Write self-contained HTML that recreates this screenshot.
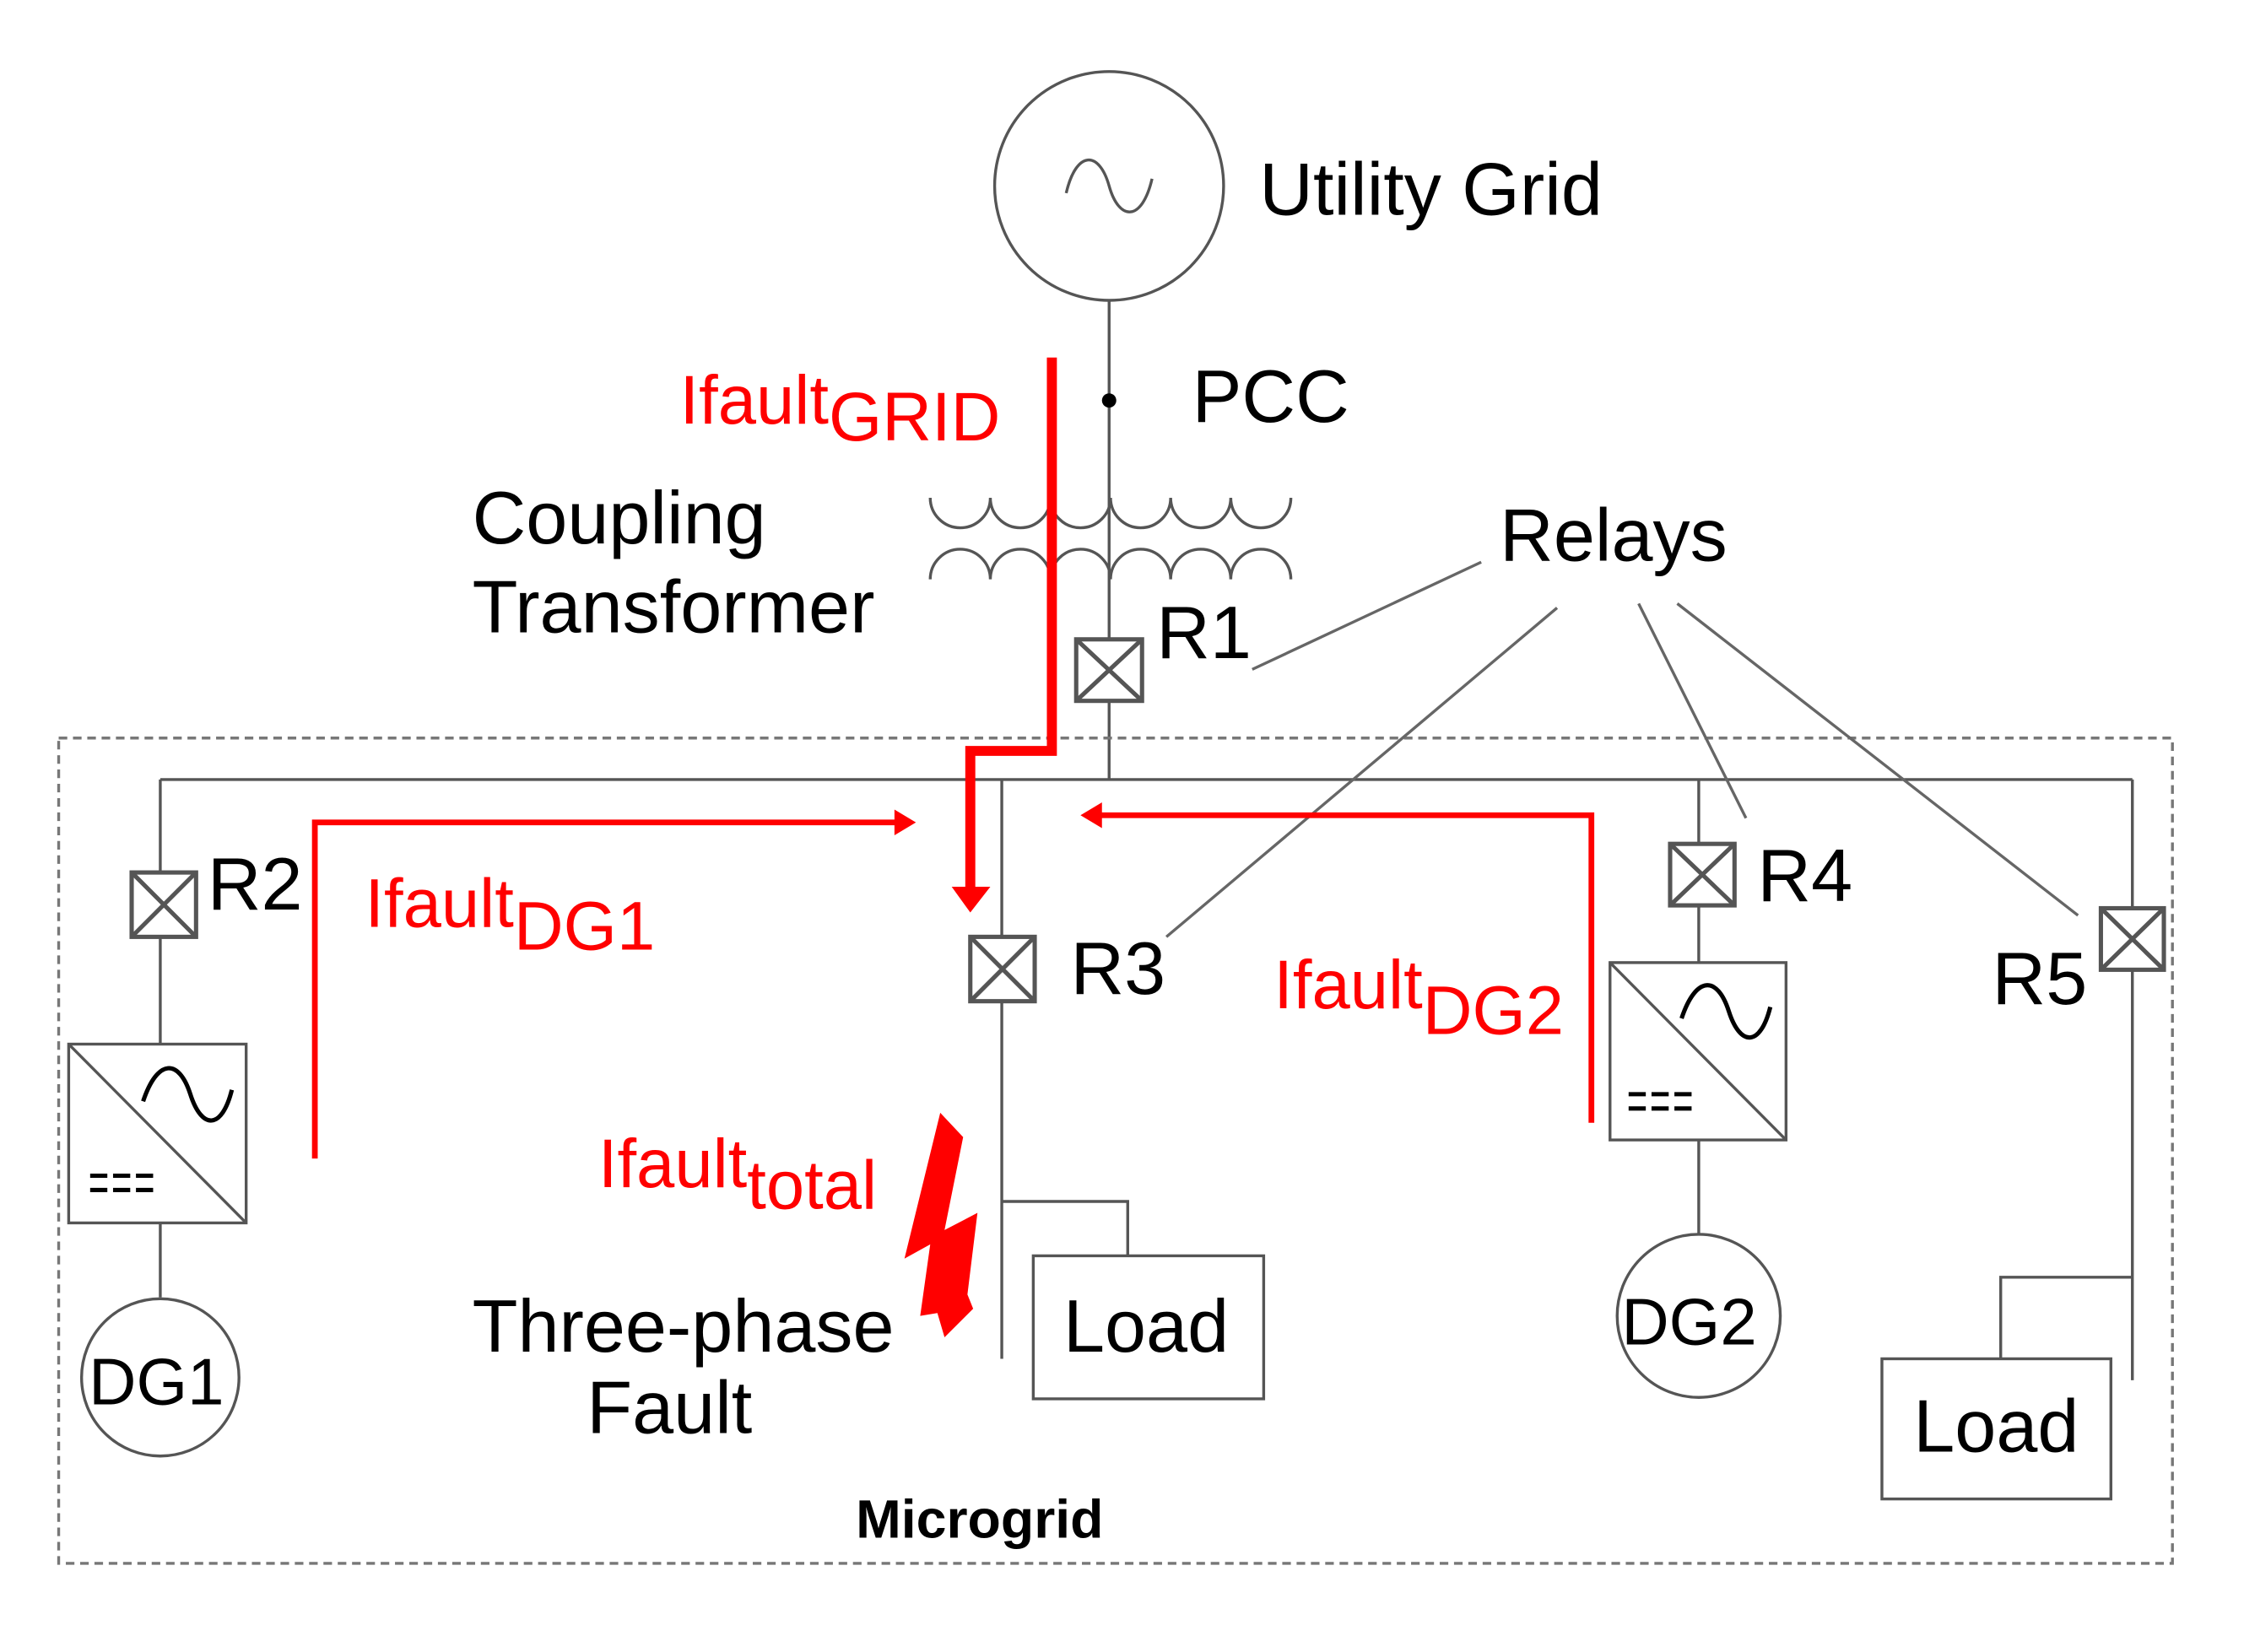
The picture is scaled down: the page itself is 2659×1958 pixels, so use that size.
<!DOCTYPE html>
<html><head><style>html,body{margin:0;padding:0;background:#fff}svg{display:block}</style></head>
<body>
<svg width="2659" height="1958" viewBox="0 0 1568 1155" preserveAspectRatio="none" xmlns="http://www.w3.org/2000/svg" font-family="Liberation Sans, Arial, sans-serif">
<rect width="1568" height="1155" fill="#fff"/>
<g stroke="#555" stroke-width="2" fill="none">
<circle cx="775" cy="130" r="80"/>
<path d="M745,135 C752,105 768,105 775,130 C782,155 798,155 805,125"/>
<line x1="775" y1="210" x2="775" y2="447"/>
<line x1="775" y1="490" x2="775" y2="545"/>
<path d="M650,348 a21,21 0 0 0 42,0 a21,21 0 0 0 42,0 a21,21 0 0 0 42,0 a21,21 0 0 0 42,0 a21,21 0 0 0 42,0 a21,21 0 0 0 42,0"/>
<path d="M650,405 a21,21 0 0 1 42,0 a21,21 0 0 1 42,0 a21,21 0 0 1 42,0 a21,21 0 0 1 42,0 a21,21 0 0 1 42,0 a21,21 0 0 1 42,0"/>
<rect x="41" y="516" width="1477" height="577" stroke-dasharray="6,4" stroke="#777"/>
<line x1="112" y1="545" x2="1490" y2="545"/>
<line x1="112" y1="545" x2="112" y2="610"/>
<line x1="112" y1="655" x2="112" y2="730"/>
<line x1="112" y1="855" x2="112" y2="907"/>
<rect x="48" y="730" width="124" height="125"/>
<line x1="48" y1="730" x2="172" y2="855"/>
<path d="M100,770 C110,740 125,740 133,765 C141,790 155,790 162,762" stroke-width="3" stroke="#000"/>
<path d="M63,822 h44 M63,832 h44" stroke="#000" stroke-width="3" stroke-dasharray="12,4"/>
<circle cx="112" cy="963" r="55"/>
<line x1="700" y1="545" x2="700" y2="655"/>
<line x1="700" y1="700" x2="700" y2="950"/>
<path d="M700,840 H788 V878"/>
<rect x="722" y="878" width="161" height="100"/>
<line x1="1187" y1="545" x2="1187" y2="590"/>
<line x1="1187" y1="633" x2="1187" y2="673"/>
<line x1="1187" y1="797" x2="1187" y2="863"/>
<rect x="1125" y="673" width="123" height="124"/>
<line x1="1125" y1="673" x2="1248" y2="797"/>
<path d="M1175,712 C1185,682 1200,682 1208,707 C1216,732 1230,732 1237,704" stroke-width="3" stroke="#000"/>
<path d="M1138,765 h44 M1138,775 h44" stroke="#000" stroke-width="3" stroke-dasharray="12,4"/>
<circle cx="1187" cy="920" r="57"/>
<line x1="1490" y1="545" x2="1490" y2="635"/>
<line x1="1490" y1="678" x2="1490" y2="965"/>
<path d="M1490,893 H1398 V950"/>
<rect x="1315" y="950" width="160" height="98"/>
<g stroke="#666">
<line x1="1035" y1="393" x2="875" y2="468"/>
<line x1="1088" y1="425" x2="815" y2="655"/>
<line x1="1145" y1="422" x2="1220" y2="572"/>
<line x1="1172" y1="422" x2="1452" y2="640"/>
</g>
<g stroke-width="3">
<rect x="752" y="447" width="46" height="43"/><path d="M752,447 L798,490 M798,447 L752,490"/>
<rect x="92" y="610" width="45" height="45"/><path d="M92,610 L137,655 M137,610 L92,655"/>
<rect x="678" y="655" width="45" height="45"/><path d="M678,655 L723,700 M723,655 L678,700"/>
<rect x="1167" y="590" width="45" height="43"/><path d="M1167,590 L1212,633 M1212,590 L1167,633"/>
<rect x="1468" y="635" width="44" height="43"/><path d="M1468,635 L1512,678 M1512,635 L1468,678"/>
</g>
</g>
<circle cx="775" cy="280" r="5" fill="#000"/>
<g fill="none" stroke="#f00">
<path d="M735,250 V525 H678 V628" stroke-width="7"/>
<path d="M220,810 V575 H630" stroke-width="4"/>
<path d="M1112,785 V570 H765" stroke-width="4"/>
</g>
<g fill="#f00">
<polygon points="665,620 692,620 678,638"/>
<polygon points="625,566 640,575 625,584"/>
<polygon points="770,561 755,570 770,579"/>
<polygon points="657,778 673,795 660,860 683,848 676,905 680,915 660,935 655,918 643,920 650,870 632,880"/>
</g>
<g font-size="52" fill="#000">
<text x="880" y="150">Utility Grid</text>
<text x="833" y="295">PCC</text>
<text x="330" y="380">Coupling</text>
<text x="330" y="442">Transformer</text>
<text x="808" y="460">R1</text>
<text x="1048" y="392">Relays</text>
<text x="145" y="636">R2</text>
<text x="748" y="695">R3</text>
<text x="1228" y="630">R4</text>
<text x="1392" y="702">R5</text>
<text x="330" y="945">Three-phase</text>
<text x="410" y="1002">Fault</text>
<text x="743" y="945">Load</text>
<text x="1337" y="1015">Load</text>
<text x="62" y="982" font-size="46">DG1</text>
<text x="1133" y="940" font-size="46">DG2</text>
<text x="598" y="1075" font-size="38" font-weight="bold">Microgrid</text>
</g>
<g font-size="48" fill="#f00">
<text x="475" y="296">Ifault<tspan dy="12">GRID</tspan></text>
<text x="255" y="648">Ifault<tspan dy="16">DG1</tspan></text>
<text x="890" y="705">Ifault<tspan dy="18">DG2</tspan></text>
<text x="418" y="830">Ifault<tspan dy="15">total</tspan></text>
</g>
</svg>
</body></html>
